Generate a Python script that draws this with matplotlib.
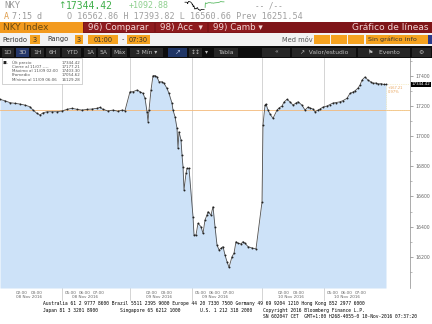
import numpy as np
import matplotlib
matplotlib.use('Agg')
import matplotlib.pyplot as plt
from matplotlib.patches import Rectangle
from matplotlib import transforms

W, H = 432, 324

# Nikkei 225 (NKY Index), 3-minute bars, 08-10 Nov 2016
day_open = [0, 130, 262]        # bar index where each session starts
session_dates = ['08 Nov 2016', '09 Nov 2016', '10 Nov 2016']

bars_1 = [0, 5, 10, 15, 20, 25, 30, 33, 37, 40, 43, 47, 52, 57, 62, 67, 72, 77, 82, 87,
          92, 97, 100, 103, 108, 113, 118, 122, 125]
nky_1 = [17245, 17236, 17223, 17219, 17214, 17207, 17196, 17174, 17152, 17141,
         17156, 17163, 17163, 17163, 17168, 17179, 17186, 17179, 17174, 17179,
         17181, 17186, 17192, 17179, 17168, 17174, 17166, 17174, 17171]

bars_2 = [0, 3, 7, 10, 13, 15, 17, 18, 19, 21, 23, 25, 27, 29, 32, 34, 37, 39, 42, 43,
          45, 47, 48, 49, 51, 52, 53, 54, 56, 57, 59, 63, 64, 66, 68, 71, 73, 75, 77, 78,
          81, 83, 85, 87, 89, 91, 93, 95, 97, 99, 102, 104, 106, 108, 111, 113, 115, 118,
          122, 126]
nky_2 = [17296, 17296, 17307, 17296, 17285, 17252, 17163, 17097, 17174, 17307,
         17403, 17403, 17395, 17362, 17362, 17352, 17318, 17285, 17219, 17174,
         17130, 17053, 16920, 17030, 16975, 16875, 16798, 16643, 16754, 16787,
         16787, 16466, 16344, 16344, 16422, 16399, 16355, 16444, 16477, 16499,
         16477, 16532, 16399, 16278, 16245, 16256, 16267, 16211, 16167, 16129,
         16200, 16223, 16300, 16289, 16285, 16300, 16289, 16267, 16258, 16252]

bars_3 = [0, 1, 3, 4, 6, 8, 11, 15, 17, 20, 22, 25, 28, 31, 34, 36, 40, 43, 46, 48,
          51, 53, 56, 58, 61, 65, 68, 71, 74, 78, 81, 85, 88, 91, 93, 96, 98, 100, 103,
          106, 109, 111, 114, 116, 119, 122, 124]
nky_3 = [16563, 17075, 17207, 17214, 17174, 17148, 17119, 17174, 17188, 17201,
         17227, 17245, 17229, 17207, 17221, 17229, 17207, 17174, 17194, 17188,
         17181, 17163, 17174, 17181, 17194, 17201, 17211, 17221, 17224, 17229,
         17237, 17252, 17285, 17294, 17302, 17320, 17340, 17373, 17394, 17373,
         17360, 17352, 17354, 17347, 17350, 17344, 17344.42]

prev_close = 17177.21
last_price = 17344.42

hour_labels = ['02:00', '03:00', '05:00', '06:00', '07:00']
hour_offsets = [22, 37, 71, 85, 99]
lunch_offset = 62

legend_rows = [('Últ precio', '17344.42'),
               ('Cierre al 11/07 ----', '17177.21'),
               ('Máximo al 11/09 02:00', '17403.30'),
               ('Promedio', '17054.62'),
               ('Mínimo al 11/09 06:06', '16129.28')]

YLO, YHI = 15992, 17520

fig = plt.figure(figsize=(4.32, 3.24), dpi=100)
fig.patch.set_facecolor('white')


def box(x0, y0, x1, y1, color, **kw):
    fig.patches.append(Rectangle((x0 / W, 1 - y1 / H), (x1 - x0) / W, (y1 - y0) / H,
                                 transform=fig.transFigure, facecolor=color,
                                 edgecolor='none', **kw))


def txt(x, y, s, size=5, color='black', **kw):
    kw.setdefault('va', 'center')
    fig.text(x / W, 1 - y / H, s, fontsize=size, color=color, **kw)


mono = 'DejaVu Sans Mono'

# ---- header rows ----
txt(4, 6, 'NKY', 6.5, '#9a9a9a', family=mono)
txt(58, 6, '↑', 6.5, '#3fae49')
txt(66, 6, '17344.42', 7, '#3fae49', family=mono)
txt(129, 6, '+1092.88', 6, '#8fd08f', family=mono)
txt(255, 6, '-- /--', 5.5, '#9a9a9a', family=mono)
txt(4, 16.5, 'A', 6, '#e0a050', family=mono)
txt(12, 16.5, '7:15 d', 6, '#9a9a9a', family=mono)
txt(67, 16.5, 'O 16562.86 H 17393.82 L 16560.66 Prev 16251.54', 6.1, '#a0a0a0', family=mono)

box(0, 22, 83, 33, '#f39a1e')
txt(3, 27.5, 'NKY Index', 6.5, '#6b4a10')
box(83, 22, 432, 33, '#7e1518')
for x0, x1 in [(84, 154), (156, 207), (209, 260)]:
    box(x0, 23, x1, 32, '#8e1b1e')
txt(88, 27.5, '96) Comparar', 6.3, '#f3d6d6')
txt(160, 27.5, '98) Acc  ▾', 6.3, '#f3d6d6')
txt(213, 27.5, '99) Camb ▾', 6.3, '#f3d6d6')
txt(428, 27.5, 'Gráfico de líneas', 6.5, '#f3d6d6', ha='right')

box(0, 33, 432, 46, '#f2f2f2')
txt(2, 39.5, 'Periodo', 4.8, '#333333')
box(30, 35, 40, 44, '#f5a21f')
txt(35, 39.5, '3', 4.8, '#333333', ha='center')
txt(47, 39.5, 'Rango', 4.8, '#333333')
box(75, 35, 83, 44, '#f5a21f')
txt(79, 39.5, '3', 4.8, '#333333', ha='center')
box(88, 35, 118, 44, '#f5a21f')
txt(103, 39.5, '01:00', 4.8, '#333333', ha='center')
txt(123, 39.5, '-', 4.8, '#333333', ha='center')
box(127, 35, 150, 44, '#f5a21f')
txt(138.5, 39.5, '07:30', 4.8, '#333333', ha='center')
txt(282, 39.5, 'Med móv', 4.8, '#555555')
for x0 in (314, 331, 348):
    box(x0, 35, x0 + 16, 44, '#f5a21f')
box(366, 35, 428, 44, '#f5a21f')
txt(368, 39.5, 'Sin gráfico info', 4.6, '#333333')
box(428, 35, 432, 44, '#2a3a8a')

box(0, 46, 432, 58, '#0d0d0d')
for lab, x0, x1 in [('1D', 2, 14), ('3D', 16, 29), ('1H', 31, 44), ('6H', 46, 60),
                    ('YTD', 62, 81), ('1A', 84, 96), ('5A', 98, 110),
                    ('Máx', 112, 127), ('3 Mín ▾', 130, 163)]:
    box(x0, 47.5, x1, 56.5, '#24376a' if lab == '3D' else '#262626')
    txt((x0 + x1) / 2, 52, lab, 4.3, '#bdbdbd', ha='center')
box(168, 47.5, 187, 56.5, '#1f3565')
txt(177.5, 52, '↗', 5, '#aab8d8', ha='center')
box(189, 47.5, 202, 56.5, '#262626')
txt(195.5, 52, '↕↕', 4.3, '#bdbdbd', ha='center')
txt(206, 52, '▾', 4.3, '#bdbdbd', ha='center')
box(214, 47.5, 238, 56.5, '#262626')
txt(226, 52, 'Tabla', 4.3, '#bdbdbd', ha='center')
for lab, x0, x1 in [('«', 262, 290), ('↗  Valor/estudio', 292, 356),
                    ('⚑   Evento', 358, 410), ('⚙', 412, 431)]:
    box(x0, 47.5, x1, 56.5, '#262626')
    txt((x0 + x1) / 2, 52, lab, 4.3, '#bdbdbd', ha='center')

# sparkline next to the price
spark = fig.add_axes([183 / W, 1 - 11 / H, 43 / W, 10 / H])
spark.plot(np.array(bars_2) + day_open[1], nky_2, color='black', lw=0.5)
spark.plot(np.array(bars_3) + day_open[2], nky_3, color='#3fae49', lw=0.5)
spark.axis('off')

# ---- main chart ----
ax = fig.add_axes([0, 1 - 288 / H, 410 / W, 230 / H])
ax.set_xlim(0, 410)
ax.set_ylim(YLO, YHI)

bars = [bars_1, bars_2, bars_3]
prices = [nky_1, nky_2, nky_3]
x_all = np.concatenate([o + np.array(b) for o, b in zip(day_open, bars)])
p_all = np.concatenate(prices)

ax.fill_between(x_all, p_all, YLO, color='#cde2f8', lw=0, zorder=1)
ax.plot(x_all, p_all, color='#505050', lw=0.6, marker='o', ms=1.4,
        mfc='#222222', mec='#222222', mew=0, zorder=3)
ax.axhline(prev_close, color='#f4b97a', lw=0.6, zorder=2)
ax.add_patch(Rectangle((x_all[-1], prev_close), 410 - x_all[-1], last_price - prev_close,
                       fill=False, edgecolor='#efdf9a', lw=0.5, ls=':', zorder=2))
ax.text(x_all[-1] + 2, last_price - 10, '+%.2f\n%.2f%%' % (last_price - prev_close,
        (last_price / prev_close - 1) * 100), fontsize=2.6, color='#e9a45a',
        va='top', linespacing=1.1)

trans = transforms.blended_transform_factory(ax.transData, ax.transAxes)
for i, o in enumerate(day_open):
    for x in (o, o + lunch_offset):
        if x > 0:
            ax.axvline(x, ymin=-0.052, ymax=1, color='#c4c4c4', lw=0.5,
                       clip_on=False, zorder=0)
    for lab, off in zip(hour_labels, hour_offsets):
        ax.text(o + off, -0.012, lab, transform=trans, fontsize=3, color='#666666',
                ha='center', va='top')
    for c in (np.mean(hour_offsets[:2]), np.mean(hour_offsets[2:])):
        ax.text(o + c, -0.032, session_dates[i], transform=trans, fontsize=3,
                color='#666666', ha='center', va='top')

ax.yaxis.tick_right()
ax.set_xticks([])
ax.set_yticks(np.arange(16200, 17401, 200))
ax.set_yticks(np.arange(16100, 17501, 100), minor=True)
ax.tick_params(axis='y', which='major', labelsize=3.3, colors='#666666',
               length=2.2, width=0.4, pad=1.5)
ax.tick_params(axis='y', which='minor', length=1.2, width=0.4, colors='#888888')
for s in ('top', 'left', 'bottom'):
    ax.spines[s].set_visible(False)
ax.spines['right'].set_color('#8a8a8a')
ax.spines['right'].set_linewidth(0.5)

ytrans = transforms.blended_transform_factory(ax.transAxes, ax.transData)
ax.text(1.004, last_price, '%.2f' % last_price, transform=ytrans, fontsize=2.9,
        color='white', va='center', ha='left', zorder=5, clip_on=False,
        bbox=dict(boxstyle='square,pad=0.15', fc='black', ec='none'))

# legend box
box(2, 58.5, 82, 84, 'white', zorder=5)
fig.patches.append(Rectangle((2 / W, 1 - 84 / H), 80 / W, 25.5 / H,
                             transform=fig.transFigure, fill=False,
                             edgecolor='#b0b0b0', lw=0.4, zorder=6))
for k, (name, val) in enumerate(legend_rows):
    yy = 62.5 + 4.3 * k
    if k == 0:
        txt(6, yy, '-■-', 2.6, '#222222', ha='center', zorder=7)
    txt(12, yy, name, 2.9, '#555555', zorder=7)
    txt(80, yy, val, 2.9, '#555555', ha='right', zorder=7)

# footer
foot = 3.35
txt(43, 304, 'Australia 61 2 9777 8600 Brazil 5511 2395 9000 Europe 44 20 7330 7500 '
    'Germany 49 69 9204 1210 Hong Kong 852 2977 6000', foot, 'black', family=mono)
txt(43, 310.5, 'Japan 81 3 3201 8900', foot, 'black', family=mono)
txt(120, 310.5, 'Singapore 65 6212 1000', foot, 'black', family=mono)
txt(200, 310.5, 'U.S. 1 212 318 2000', foot, 'black', family=mono)
txt(263, 310.5, 'Copyright 2016 Bloomberg Finance L.P.', foot, 'black', family=mono)
txt(263, 317, 'SN 602047 CET  GMT+1:00 H268-4055-0 10-Nov-2016 07:37:20', foot,
    'black', family=mono)

fig.savefig('out.png', dpi=100)
